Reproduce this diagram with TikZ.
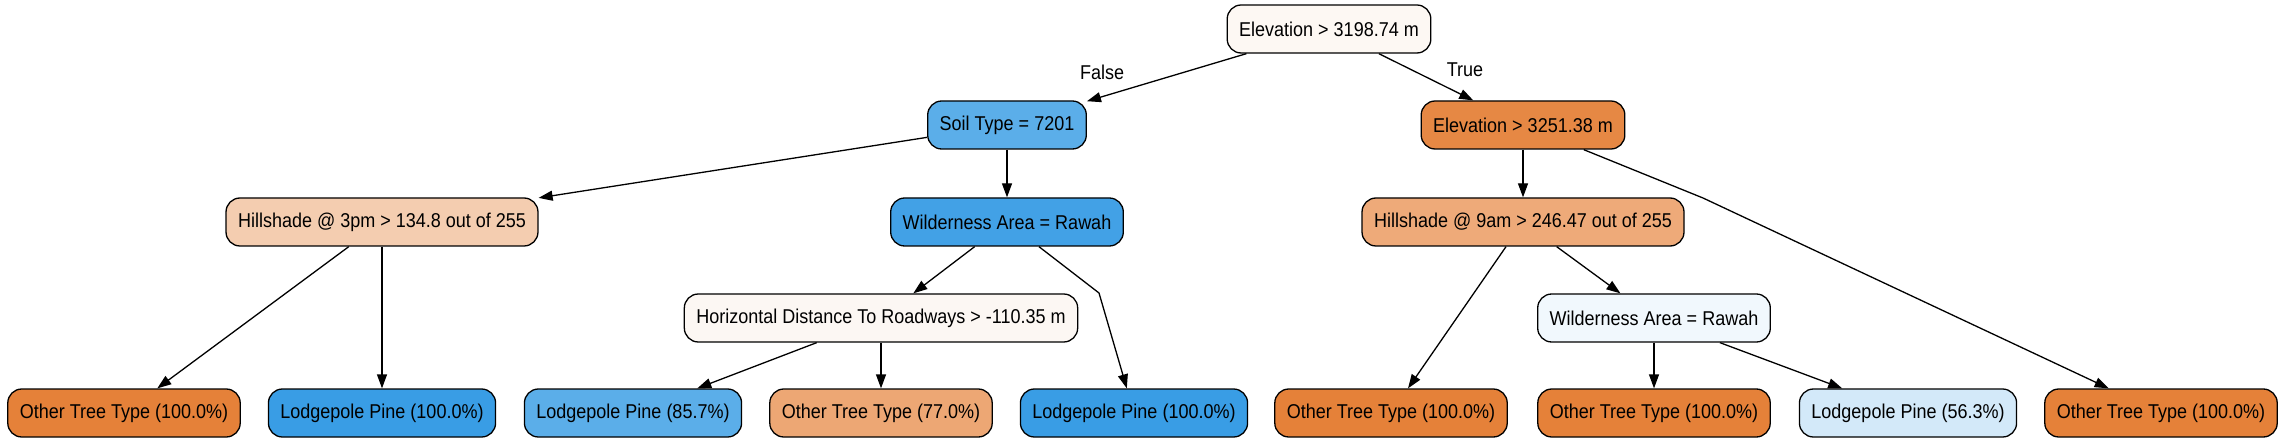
\documentclass[tikz,border=0pt]{standalone}
\usepackage{fontspec}
\setmainfont{Liberation Sans}[FakeStretch=0.9]
\usepackage{tikz}
\usetikzlibrary{arrows.meta}

\definecolor{rootc}{HTML}{FDF8F3}
\definecolor{soilc}{HTML}{5BAEE9}
\definecolor{elevc}{HTML}{E68844}
\definecolor{hillpc}{HTML}{F4CDB0}
\definecolor{wildc}{HTML}{42A1E6}
\definecolor{horizc}{HTML}{FCF7F3}
\definecolor{hillac}{HTML}{EEAA79}
\definecolor{wildlc}{HTML}{F1F8FD}
\definecolor{otherc}{HTML}{E58139}
\definecolor{lodgec}{HTML}{399DE5}
\definecolor{lodgeec}{HTML}{5BAEE9}
\definecolor{otherscc}{HTML}{EDA774}
\definecolor{lodgefc}{HTML}{D3E9F9}

\begin{document}
\begin{tikzpicture}[
            x = 1pt, y = -1pt, % pixel grid of the tree
            > = {Triangle[length=14pt,width=10pt]}, % arrow head style
            line width = 1.3pt % line style
        ]

        \tikzstyle{box}=[
            draw = black,
            rectangle,
            rounded corners = 14pt,
            line width = 1.3pt,
            minimum height = 48pt,
            inner xsep = 12pt,
            font = \fontsize{20}{24}\selectfont
        ]
        \tikzstyle{lbl}=[font = \fontsize{20}{24}\selectfont]

        \useasboundingbox (0,0) rectangle (2285,443);

	\node[box, fill=rootc] (0) at (1329,29) {Elevation > 3198.74 m};
	\node[box, fill=soilc] (1) at (1007,125) {Soil Type = 7201};
	\node[box, fill=hillpc] (2) at (382,222) {Hillshade @ 3pm > 134.8 out of 255};
	\node[box, fill=otherc] (3) at (124,413) {Other Tree Type (100.0\%)};
	\node[box, fill=lodgec] (4) at (382,413) {Lodgepole Pine (100.0\%)};
	\node[box, fill=wildc] (5) at (1007,222) {Wilderness Area = Rawah};
	\node[box, fill=horizc] (6) at (881,318) {Horizontal Distance To Roadways > -110.35 m};
	\node[box, fill=lodgeec] (7) at (633,413) {Lodgepole Pine (85.7\%)};
	\node[box, fill=otherscc] (8) at (881,413) {Other Tree Type (77.0\%)};
	\node[box, fill=lodgec] (9) at (1134,413) {Lodgepole Pine (100.0\%)};
	\node[box, fill=elevc] (10) at (1523,125) {Elevation > 3251.38 m};
	\node[box, fill=hillac] (11) at (1523,222) {Hillshade @ 9am > 246.47 out of 255};
	\node[box, fill=otherc] (12) at (1391,413) {Other Tree Type (100.0\%)};
	\node[box, fill=wildlc] (13) at (1654,318) {Wilderness Area = Rawah};
	\node[box, fill=otherc] (14) at (1654,413) {Other Tree Type (100.0\%)};
	\node[box, fill=lodgefc] (15) at (1908,413) {Lodgepole Pine (56.3\%)};
	\node[box, fill=otherc] (16) at (2161,413) {Other Tree Type (100.0\%)};

	\node[lbl] (false) at (1102,72) {False};
	\node[lbl] (true) at (1465,70) {True};

	\coordinate (k5) at (1099,293);
	\coordinate (k10) at (1703,198);

        \path[->] (0) edge (1);
        \path[->] (0) edge (10);
        \path[->] (1) edge (2);
        \path[->] (1) edge (5);
        \path[->] (2) edge (3);
        \path[->] (2) edge (4);
        \path[->] (5) edge (6);
        \draw[->] (5) -- (k5) -- (9);
        \path[->] (6) edge (7);
        \path[->] (6) edge (8);
        \path[->] (10) edge (11);
        \draw[->] (10) -- (k10) -- (16);
        \path[->] (11) edge (12);
        \path[->] (11) edge (13);
        \path[->] (13) edge (14);
        \path[->] (13) edge (15);

    \end{tikzpicture}
\end{document}
